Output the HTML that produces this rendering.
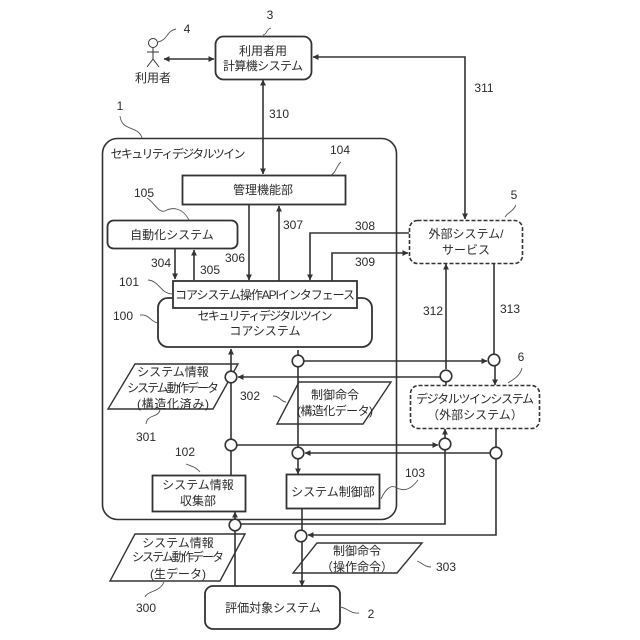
<!DOCTYPE html>
<html><head><meta charset="utf-8"><style>
html,body{margin:0;padding:0;background:#fff}
svg{display:block}
text{font-family:"Liberation Sans","Noto Sans CJK JP",sans-serif;font-size:12px;fill:#2a2a2a;text-anchor:middle}
.l{stroke:#333;stroke-width:1.6;fill:none}
.b{stroke:#333;stroke-width:1.8;fill:#fff}
.d{stroke:#333;stroke-width:1.6;fill:#fff;stroke-dasharray:4 2}
.p{stroke:#333;stroke-width:1.4;fill:none}
.t{stroke:#555;stroke-width:.9;fill:none}
.c{stroke:#333;stroke-width:1.6;fill:#fff}
</style></head><body>
<svg width="640" height="640" viewBox="0 0 640 640" xmlns="http://www.w3.org/2000/svg">
<defs><marker id="h" viewBox="0 0 8 8" refX="7.5" refY="4" markerWidth="6" markerHeight="6" markerUnits="userSpaceOnUse" orient="auto-start-reverse"><path d="M0 0L8 4L0 8Z" fill="#333"/></marker></defs>

<rect x="102.500" y="138.500" width="294" height="381" rx="15" fill="#fff" stroke="#333" stroke-width="1.6"/>

<!-- parallelograms under lines -->
<polygon class="p" points="135,364 238,364 213,409 108,409"/>
<polygon class="p" points="299,382 391,382 363,424 277,424"/>
<polygon class="p" points="135,534 245,534 220,581 110,581"/>
<polygon class="p" points="317,543 422,543 397,573 293,573"/>

<!-- connectors -->
<path class="l" d="M164 59H214" marker-start="url(#h)" marker-end="url(#h)"/>
<path class="l" d="M263 80V174" marker-start="url(#h)" marker-end="url(#h)"/>
<path class="l" d="M313 57H465V219" marker-start="url(#h)" marker-end="url(#h)"/>
<path class="l" d="M175 249V279" marker-end="url(#h)"/>
<path class="l" d="M194 280V250" marker-end="url(#h)"/>
<path class="l" d="M249 204V280" marker-end="url(#h)"/>
<path class="l" d="M279 281V206" marker-end="url(#h)"/>
<path class="l" d="M409 233H310V280" marker-end="url(#h)"/>
<path class="l" d="M332 281V253H408" marker-end="url(#h)"/>
<path class="l" d="M231 475V349" marker-end="url(#h)"/>
<path class="l" d="M298 350V474" marker-end="url(#h)"/>
<path class="l" d="M303 361H487" marker-end="url(#h)"/>
<path class="l" d="M440 377H238" marker-end="url(#h)"/>
<path class="l" d="M237 445H438" marker-end="url(#h)"/>
<path class="l" d="M490 453H305" marker-end="url(#h)"/>
<path class="l" d="M446 369V264" marker-end="url(#h)"/>
<path class="l" d="M446 381V385"/>
<path class="l" d="M494 263V354"/>
<path class="l" d="M495 366V385" marker-end="url(#h)"/>
<path class="l" d="M445 438V429" marker-end="url(#h)"/>
<path class="l" d="M445 450V524H241"/>
<path class="l" d="M496 428V447"/>
<path class="l" d="M496 459V535H308" marker-end="url(#h)"/>
<path class="l" d="M235 586V512" marker-end="url(#h)"/>
<path class="l" d="M302 508V586" marker-end="url(#h)"/>

<!-- boxes -->
<rect class="b" x="215.500" y="36.500" width="96" height="43" rx="8"/>
<rect class="b" x="182.500" y="175.500" width="163" height="29"/>
<rect class="b" x="107.500" y="220.500" width="130" height="28" rx="6"/>
<rect class="b" x="158" y="298" width="214" height="49" rx="10"/>
<rect class="b" x="173" y="281" width="184" height="27"/>
<rect class="b" x="152.500" y="475.500" width="93" height="36"/>
<rect class="b" x="286.500" y="474.500" width="93" height="34"/>
<rect class="b" x="205" y="586" width="135" height="43" rx="8"/>
<rect class="d" x="409.500" y="220.500" width="113" height="43" rx="8"/>
<rect class="d" x="410.500" y="385.500" width="129" height="43" rx="8"/>

<!-- junctions -->
<circle class="c" cx="231" cy="377" r="5.800"/>
<circle class="c" cx="231" cy="445" r="5.800"/>
<circle class="c" cx="298" cy="361" r="5.800"/>
<circle class="c" cx="298" cy="453" r="5.800"/>
<circle class="c" cx="494" cy="360" r="5.800"/>
<circle class="c" cx="446" cy="376" r="5.800"/>
<circle class="c" cx="445" cy="444" r="5.800"/>
<circle class="c" cx="496" cy="453" r="5.800"/>
<circle class="c" cx="235" cy="525" r="5.800"/>
<circle class="c" cx="301" cy="536" r="5.800"/>

<!-- person -->
<circle cx="153" cy="43" r="4.500" fill="#fff" stroke="#333" stroke-width="1"/>
<path d="M153 48V59M147 52H159M153 59L147 67M153 59L159 67" stroke="#333" stroke-width="1" fill="none"/>

<!-- leaders -->
<path class="t" d="M263 35C268 34 265 30 271 28"/>
<path class="t" d="M158 42C168 40 166 31 176 29"/>
<path class="t" d="M120 116C122 132 138 125 142 138"/>
<path class="t" d="M331 175C336 173 336 166 341 162"/>
<path class="t" d="M147 198C155 203 158 213 165 211C172 207 182 207 189 220"/>
<path class="t" d="M148 280C160 281 160 294 173 294"/>
<path class="t" d="M140 315C150 314 150 322 158 323"/>
<path class="t" d="M146 424C147 414 158 418 160 410"/>
<path class="t" d="M273 396C280 396 281 402 286 402"/>
<path class="t" d="M186 464C191 466 196 467 200 472"/>
<path class="t" d="M381 499C385 490 390 485 395 487C405 493 412 488 418 480"/>
<path class="t" d="M417 561C423 563 424 567 431 567"/>
<path class="t" d="M145 597C147 591 160 592 164 582"/>
<path class="t" d="M340 607C348 608 350 614 359 613"/>
<path class="t" d="M505 217C509 211 512 213 516 205"/>
<path class="t" d="M508 383C514 379 520 376 522 368"/>

<!-- box text -->
<text x="263" y="55">利用者用</text>
<text x="263" y="70" textLength="80">計算機システム</text>
<text x="153" y="82">利用者</text>
<text x="178" y="158" textLength="135">セキュリティデジタルツイン</text>
<text x="263" y="194">管理機能部</text>
<text x="172" y="239">自動化システム</text>
<text x="265" y="299" textLength="180">コアシステム操作APIインタフェース</text>
<text x="265" y="320" textLength="135">セキュリティデジタルツイン</text>
<text x="265" y="335">コアシステム</text>
<text x="173" y="376">システム情報</text>
<text x="173" y="392" textLength="92">システム動作データ</text>
<text x="173" y="408" textLength="72">(構造化済み)</text>
<text x="335" y="399">制御命令</text>
<text x="335" y="415" textLength="76">(構造化データ)</text>
<text x="198" y="489">システム情報</text>
<text x="198" y="505">収集部</text>
<text x="333" y="496">システム制御部</text>
<text x="466" y="238">外部システム/</text>
<text x="466" y="254">サービス</text>
<text x="475" y="403" textLength="118">デジタルツインシステム</text>
<text x="475" y="419">（外部システム）</text>
<text x="178" y="547">システム情報</text>
<text x="178" y="561" textLength="92">システム動作データ</text>
<text x="178" y="578">(生データ)</text>
<text x="357" y="555">制御命令</text>
<text x="357" y="571">（操作命令）</text>
<text x="273" y="612">評価対象システム</text>

<!-- numbers -->
<text x="270" y="19">3</text>
<text x="187" y="33">4</text>
<text x="120" y="110">1</text>
<text x="279" y="118">310</text>
<text x="484" y="92">311</text>
<text x="340" y="154">104</text>
<text x="144" y="197">105</text>
<text x="161" y="267">304</text>
<text x="210" y="274">305</text>
<text x="235" y="262">306</text>
<text x="293" y="229">307</text>
<text x="365" y="230">308</text>
<text x="365" y="266">309</text>
<text x="129" y="286">101</text>
<text x="123" y="320">100</text>
<text x="433" y="315">312</text>
<text x="510" y="313">313</text>
<text x="514" y="199">5</text>
<text x="521" y="361">6</text>
<text x="250" y="400">302</text>
<text x="146" y="441">301</text>
<text x="185" y="456">102</text>
<text x="415" y="477">103</text>
<text x="446" y="571">303</text>
<text x="146" y="612">300</text>
<text x="371" y="618">2</text>
</svg>
</body></html>
